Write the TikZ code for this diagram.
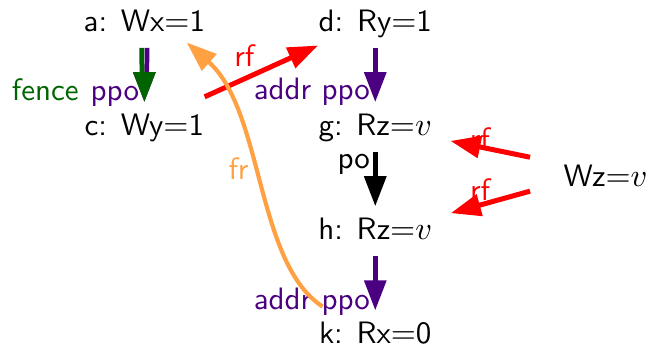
\documentclass[tikz,border=0pt]{standalone}
\usetikzlibrary{arrows.meta,positioning,calc}
\definecolor{fencegreen}{HTML}{006400}
\definecolor{ppopurple}{HTML}{4B0082}
\definecolor{frorange}{HTML}{FFA042}

\begin{document}
\begin{tikzpicture}[
    font=\fontsize{10.5}{12.6}\selectfont\sffamily,
    ev/.style={inner sep=0pt, text height=7pt, text depth=1.5pt},
    dep/.style={-{Triangle[length=10.2pt,width=7.3pt]}, line width=1.6pt,
      shorten <=4pt, shorten >=4pt},
    lbl/.style={inner sep=0pt, anchor=base east, xshift=-1pt},
    rf/.style={-{Triangle[length=10.2pt,width=7.3pt]}, line width=1.7pt, red},
    fr/.style={-{Triangle[length=10.2pt,width=7.3pt]}, line width=1.4pt, frorange}
  ]
  \useasboundingbox (0,0) rectangle (7.71,-4.11);

  % events
  \node[ev, anchor=base west] (a) at (0.99,-0.37) {a: Wx$=$1};
  \node[ev, anchor=base west] (d) at (3.79,-0.37) {d: Ry$=$1};
  \node[ev, below=0.928cm of a] (c) {c: Wy$=$1};
  \node[ev, below=0.928cm of d] (g) {g: Rz$=$$v$};
  \node[ev, below=0.928cm of g] (h) {h: Rz$=$$v$};
  \node[ev, text depth=0pt, below=0.928cm of h] (k) {k: Rx$=$0};
  \node[ev, anchor=base west] (wz) at (6.71,-2.22) {Wz$=$$v$};

  % program order edges (a->c: two edges meeting in one head)
  \draw[dep, ppopurple, shorten >=0pt] ([xshift=0.9pt]a.south)
    .. controls +(0,-19pt) and +(0,5pt) .. ([yshift=4pt]a.south |- c.north)
    node[lbl, pos=0.95] (ppoac) {ppo};
  \draw[dep, fencegreen, shorten >=0pt] ([xshift=-0.9pt]a.south)
    .. controls +(0,-19pt) and +(0,5pt) .. ([yshift=4pt]a.south |- c.north)
    node[left=2.5pt of ppoac.base west, anchor=base east, inner sep=0pt] {fence};
  \draw[dep, ppopurple] (d.south) -- (d.south |- g.north) node[lbl, pos=0.81] {addr ppo};
  \draw[dep] (g.south) -- (g.south |- h.north) node[lbl, pos=0.37] {po};
  \draw[dep, ppopurple] (h.south) -- (h.south |- k.north) node[lbl, pos=0.84] {addr ppo};

  % communications
  \draw[rf] ([yshift=5.8pt]c.north east) -- ([yshift=-3.2pt]d.south west)
    node[pos=0.35, above] {rf};
  \draw[rf] ([shift={(-11.2pt,7.1pt)}]wz.west) -- ([shift={(6.1pt,-4.7pt)}]g.east)
    node[pos=0.63, yshift=3pt] {rf};
  \draw[rf] ([shift={(-11.2pt,-4.4pt)}]wz.west) -- ([shift={(6.1pt,6.1pt)}]h.east)
    node[pos=0.63, yshift=5.4pt] {rf};
  \draw[fr] ([shift={(1.4pt,5.3pt)}]k.north west)
    .. controls +(-22.7pt,14.6pt) and +(26.1pt,-23.1pt) .. ([shift={(-6.4pt,-2.2pt)}]a.south east)
    node[pos=0.55, left, inner sep=1pt] {fr};
\end{tikzpicture}
\end{document}
